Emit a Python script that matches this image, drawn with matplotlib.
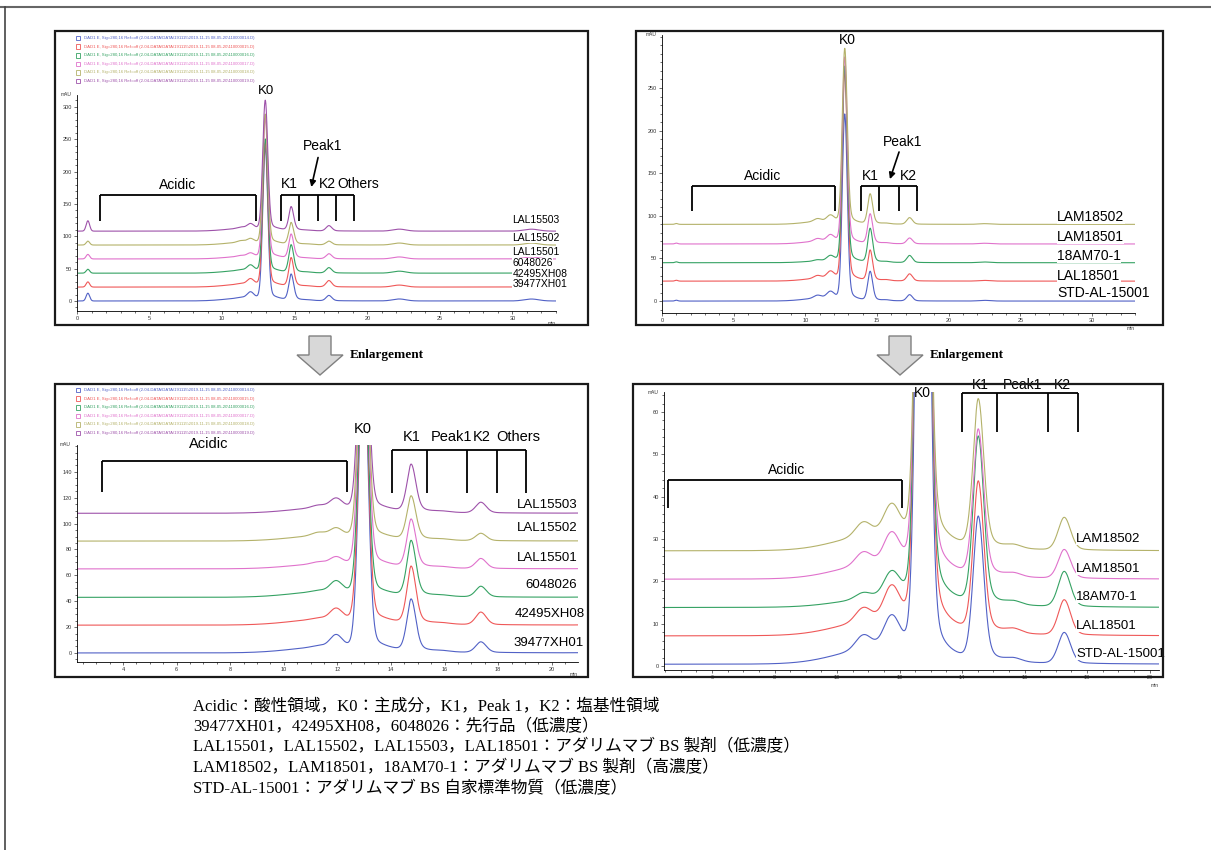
import numpy as np
import matplotlib.pyplot as plt
from matplotlib.patches import Rectangle, Polygon
from matplotlib.ticker import MultipleLocator, FixedLocator

plt.rcParams['font.family'] = ['Liberation Sans', 'Noto Sans CJK JP']

W, H = 1211, 850

# ---------------- data ----------------
# low concentration lots (top-left / bottom-left panels), bottom trace first
names_a = ['39477XH01', '42495XH08', '6048026', 'LAL15501', 'LAL15502', 'LAL15503']
colors_a = ['#5161c6', '#ef5858', '#35a263', '#e072cc', '#b4b26a', '#9e52aa']
offset_a = [0, 21.5, 43, 65, 86.5, 108]
# peaks: early, acidic hump, acidic 1, acidic 2, K0, K1, Peak1, K2, late, late2
rt_a = [0.75, 11.6, 11.3, 11.95, 12.97, 14.75, 15.9, 17.35, 22.2, 31.3]
sig_a = [0.12, 1.3, 0.25, 0.22, 0.17, 0.17, 0.3, 0.2, 0.45, 0.5]
tail_a = [0, 0, 0, 0, 0.05, 0.25, 0, 0.15, 0, 0]
gl_a = [0, 0, 0, 0, 0.3, 0.12, 0, 0.12, 0, 0]
gr_a = [0, 0, 0, 0, 0.7, 0.3, 0, 0.3, 0, 0]
heights_a = [
    [12, 4.5, 1.0, 9.0, 235, 40.0, 0.8, 8.2, 3, 3],
    [8, 4.5, 1.0, 8.0, 220, 44.0, 0.8, 9.7, 3, 3],
    [6, 4.3, 1.0, 8.0, 205, 42.5, 0.8, 8.2, 3, 3],
    [7, 3.8, 1.5, 5.0, 215, 37.0, 0.8, 7.7, 3, 3],
    [6, 4.2, 2.5, 5.5, 200, 33.5, 0.8, 5.7, 3, 3],
    [16, 4.2, 2.0, 7.0, 200, 36.5, 0.8, 8.2, 3, 3],
]

# BS lots and standard (top-right / bottom-right panels), bottom trace first
names_b = ['STD-AL-15001', 'LAL18501', '18AM70-1', 'LAM18501', 'LAM18502']
colors_b = ['#5161c6', '#ef5858', '#35a263', '#e072cc', '#b4b26a']
offset_top_b = [0, 23.4, 45, 67, 90]
offset_zoom_b = [0.4, 7.1, 13.8, 20.5, 27.2]
# peaks: early, acidic hump, acidic 1, acidic 2, K0, K1, Peak1, K2, late
rt_b = [1.0, 11.2, 10.85, 11.75, 12.75, 14.52, 15.65, 17.27, 22.5]
sig_b = [0.1, 1.2, 0.25, 0.25, 0.17, 0.17, 0.25, 0.2, 0.4]
tail_b = [0, 0, 0, 0, 0.09, 0.2, 0, 0.15, 0]
gl_b = [0, 0, 0, 0, 0.25, 0.15, 0, 0.15, 0]
gr_b = [0, 0, 0, 0, 0.4, 0.3, 0, 0.3, 0]
heights_b = [
    [1, 3.5, 3.3, 7.4, 218, 34.0, 0.8, 7.3, 0.8],
    [1, 3.3, 3.2, 7.8, 245, 35.5, 1.0, 8.3, 0.8],
    [1, 1.8, 1.5, 5.9, 230, 39.5, 0.8, 8.3, 0.8],
    [1, 3.3, 3.0, 7.1, 218, 34.5, 0.8, 6.8, 0.8],
    [1, 3.5, 3.2, 7.0, 205, 35.0, 0.8, 7.7, 0.8],
]

legend_files = [
    'DAD1 E, Sig=280,16 Ref=off (2-04-DATA\\DATA\\191115\\2019-11-15 08-05-20\\110000014.D)',
    'DAD1 E, Sig=280,16 Ref=off (2-04-DATA\\DATA\\191115\\2019-11-15 08-05-20\\110000015.D)',
    'DAD1 E, Sig=280,16 Ref=off (2-04-DATA\\DATA\\191115\\2019-11-15 08-05-20\\110000016.D)',
    'DAD1 E, Sig=280,16 Ref=off (2-04-DATA\\DATA\\191115\\2019-11-15 08-05-20\\110000017.D)',
    'DAD1 E, Sig=280,16 Ref=off (2-04-DATA\\DATA\\191115\\2019-11-15 08-05-20\\110000018.D)',
    'DAD1 E, Sig=280,16 Ref=off (2-04-DATA\\DATA\\191115\\2019-11-15 08-05-20\\110000019.D)',
]

caption = [
    'Acidic：酸性領域，K0：主成分，K1，Peak 1，K2：塩基性領域',
    '39477XH01，42495XH08，6048026：先行品（低濃度）',
    'LAL15501，LAL15502，LAL15503，LAL18501：アダリムマブ BS 製剤（低濃度）',
    'LAM18502，LAM18501，18AM70-1：アダリムマブ BS 製剤（高濃度）',
    'STD-AL-15001：アダリムマブ BS 自家標準物質（低濃度）',
]


def chrom(t, rts, sigs, tails, gls, grs, hts):
    y = np.zeros_like(t)
    for p, s, f, a, b, h in zip(rts, sigs, tails, gls, grs, hts):
        d = t - p
        y += h * (1 - f) * np.exp(-0.5 * (d / s) ** 2)
        if f > 0:
            g = np.where(d < 0, a, b)
            y += h * f * g ** 2 / (d ** 2 + g ** 2)
    return y


t = np.linspace(0.1, 34, 5000)
sig_a_traces = [chrom(t, rt_a, sig_a, tail_a, gl_a, gr_a, h) for h in heights_a]
sig_b_traces = [chrom(t, rt_b, sig_b, tail_b, gl_b, gr_b, h) for h in heights_b]

fig = plt.figure(figsize=(W / 100, H / 100), dpi=100)


def add_ax(x0, x1, y0, y1):
    ax = fig.add_axes([x0 / W, 1 - y1 / H, (x1 - x0) / W, (y1 - y0) / H])
    ax.patch.set_alpha(0)
    for s in ('top', 'right'):
        ax.spines[s].set_visible(False)
    for s in ('left', 'bottom'):
        ax.spines[s].set_linewidth(0.6)
    ax.tick_params(which='both', labelsize=4, colors='#333', width=0.5, pad=1)
    ax.tick_params(which='major', length=2.5)
    ax.tick_params(which='minor', length=1.3)
    ax.text(-0.012, 1.0, 'mAU', transform=ax.transAxes, fontsize=3.5, ha='right', va='center', color='#333')
    ax.text(1.0, -0.045, 'min', transform=ax.transAxes, fontsize=3.5, ha='right', va='top', color='#333')
    return ax


def bracket(ax, xs, ytop, ybot):
    ax.plot([xs[0], xs[-1]], [ytop, ytop], color='k', lw=1.3, clip_on=False, solid_capstyle='butt')
    for x in xs:
        ax.plot([x, x], [ytop, ybot], color='k', lw=1.3, clip_on=False, solid_capstyle='butt')


def note(ax, x, y, s, size=10):
    ax.text(x, y, s, ha='center', va='center', fontsize=size, clip_on=False, zorder=6)


def labels(ax, xs, ys, names, size):
    for x, y, n in zip(xs, ys, names):
        ax.text(x, y, n, ha='left', va='center', fontsize=size, clip_on=False, zorder=5,
                bbox=dict(boxstyle='square,pad=0.03', fc='white', ec='none'))


# ---------- top-left ----------
ax1 = add_ax(77, 556, 95, 311)
for y, off, c in zip(sig_a_traces, offset_a, colors_a):
    ax1.plot(t, y + off, color=c, lw=0.8)
ax1.set_xlim(0, 33)
ax1.set_ylim(-15.5, 318.5)
ax1.xaxis.set_major_locator(FixedLocator([0, 5, 10, 15, 20, 25, 30]))
ax1.xaxis.set_minor_locator(MultipleLocator(1))
ax1.yaxis.set_major_locator(FixedLocator([0, 50, 100, 150, 200, 250, 300]))
ax1.yaxis.set_minor_locator(MultipleLocator(10))
bracket(ax1, [1.58, 12.32], 164, 124)
bracket(ax1, [14.04, 15.28, 16.59, 17.83, 19.06], 164, 124)
note(ax1, 6.9, 180, 'Acidic')
note(ax1, 13.0, 324, 'K0', 9.5)
note(ax1, 14.66, 181, 'K1')
note(ax1, 17.25, 181, 'K2')
note(ax1, 19.4, 181, 'Others')
note(ax1, 16.9, 239, 'Peak1')
ax1.annotate('', xy=(16.1, 172), xytext=(16.65, 226),
             arrowprops=dict(arrowstyle='-|>', color='k', lw=1.2, mutation_scale=9))
labels(ax1, [30.0] * 6, [25.5, 41.5, 58.0, 75.8, 97.5, 125], names_a, 7.5)

# ---------- top-right ----------
ax2 = add_ax(662, 1135, 35, 313)
for y, off, c in zip(sig_b_traces, offset_top_b, colors_b):
    ax2.plot(t, y + off, color=c, lw=0.8)
ax2.set_xlim(0, 33)
ax2.set_ylim(-14, 312.2)
ax2.xaxis.set_major_locator(FixedLocator([0, 5, 10, 15, 20, 25, 30]))
ax2.xaxis.set_minor_locator(MultipleLocator(1))
ax2.yaxis.set_major_locator(FixedLocator([0, 50, 100, 150, 200, 250]))
ax2.yaxis.set_minor_locator(MultipleLocator(10))
bracket(ax2, [2.09, 12.07], 135, 105.6)
bracket(ax2, [13.89, 15.14, 16.54, 17.8], 135, 105.6)
note(ax2, 7.05, 147, 'Acidic')
note(ax2, 12.9, 306, 'K0')
note(ax2, 14.5, 147, 'K1')
note(ax2, 17.2, 147, 'K2')
note(ax2, 16.8, 187, 'Peak1')
ax2.annotate('', xy=(15.84, 140), xytext=(16.6, 178),
             arrowprops=dict(arrowstyle='-|>', color='k', lw=1.2, mutation_scale=9))
labels(ax2, [27.56] * 5, [9.4, 29.3, 52.8, 75.1, 98.6], names_b, 10)

# ---------- bottom-left ----------
ax3 = add_ax(77, 578, 445, 662)
for y, off, c in zip(sig_a_traces, offset_a, colors_a):
    ax3.plot(t, y + off, color=c, lw=0.8)
ax3.set_xlim(2.28, 20.98)
ax3.set_ylim(-7, 160.8)
ax3.xaxis.set_major_locator(FixedLocator([4, 6, 8, 10, 12, 14, 16, 18, 20]))
ax3.xaxis.set_minor_locator(MultipleLocator(0.5))
ax3.yaxis.set_major_locator(FixedLocator([0, 20, 40, 60, 80, 100, 120, 140]))
ax3.yaxis.set_minor_locator(MultipleLocator(5))
bracket(ax3, [3.22, 12.36], 148.5, 124.5)
bracket(ax3, [14.04, 15.35, 16.84, 17.96, 19.04], 157, 123.7)
note(ax3, 7.21, 161.6, 'Acidic', 10.5)
note(ax3, 12.96, 173, 'K0', 10.5)
note(ax3, 14.79, 167, 'K1', 10.5)
note(ax3, 16.25, 167, 'Peak1', 10.5)
note(ax3, 17.4, 167, 'K2', 10.5)
note(ax3, 18.75, 167, 'Others', 10.5)
labels(ax3, [18.56, 18.62, 19.02, 18.71, 18.71, 18.71], [7.7, 30.2, 52.6, 73.5, 96.7, 114.5], names_a, 9.5)

# ---------- bottom-right ----------
ax4 = add_ax(664, 1159, 392, 670)
for y, off, c in zip(sig_b_traces, offset_zoom_b, colors_b):
    ax4.plot(t, y + off, color=c, lw=0.8)
ax4.set_xlim(4.464, 20.304)
ax4.set_ylim(-0.95, 64.73)
ax4.xaxis.set_major_locator(FixedLocator([6, 8, 10, 12, 14, 16, 18, 20]))
ax4.xaxis.set_minor_locator(MultipleLocator(0.5))
ax4.yaxis.set_major_locator(FixedLocator([0, 10, 20, 30, 40, 50, 60]))
ax4.yaxis.set_minor_locator(MultipleLocator(2))
bracket(ax4, [4.59, 12.08], 43.9, 37.3)
bracket(ax4, [14.0, 15.12, 16.75, 17.71], 64.5, 55.3)
note(ax4, 8.4, 46.3, 'Acidic')
note(ax4, 12.72, 64.5, 'K0')
note(ax4, 14.58, 66.4, 'K1')
note(ax4, 15.95, 66.4, 'Peak1')
note(ax4, 17.2, 66.4, 'K2')
labels(ax4, [17.65] * 5, [2.83, 9.45, 16.3, 22.9, 30.0], names_b, 9.5)

# ---------- overlay: frames, arrows, caption ----------
ov = fig.add_axes([0, 0, 1, 1], zorder=10)
ov.set_xlim(0, W)
ov.set_ylim(H, 0)
ov.axis('off')
ov.patch.set_alpha(0)

ov.plot([0, W], [7, 7], color='#666', lw=1.5)
ov.plot([5, 5], [7, H], color='#444', lw=1.2)

for x0, y0, x1, y1 in [(55, 31, 588, 325), (636, 31, 1163, 325), (55, 384, 588, 677), (633, 384, 1163, 677)]:
    ov.add_patch(Rectangle((x0, y0), x1 - x0, y1 - y0, fill=False, ec='#1a1a1a', lw=1.6))

for cx, tx in [(320, 350), (900, 930)]:
    pts = [(cx - 11, 336), (cx + 11, 336), (cx + 11, 355), (cx + 23, 355), (cx, 375),
           (cx - 23, 355), (cx - 11, 355)]
    ov.add_patch(Polygon(pts, closed=True, fc='#d8d8d8', ec='#808080', lw=1))
    ov.text(tx, 355, 'Enlargement', fontsize=9.5, fontweight='bold', family='Liberation Serif',
            ha='left', va='center')

for y0 in (38, 390):
    for i, (s, c) in enumerate(zip(legend_files, colors_a)):
        yy = y0 + i * 8.6
        ov.add_patch(Rectangle((75.5, yy - 2.3), 4.6, 4.6, fill=False, ec=c, lw=0.6))
        ov.text(84, yy, s, fontsize=3.1, color=c, ha='left', va='center')

for i, line in enumerate(caption):
    ov.text(193, 706 + i * 20.8, line, fontsize=12, ha='left', va='center',
            family=['Liberation Serif', 'Noto Sans CJK JP'])

fig.savefig('out.png', dpi=100)
